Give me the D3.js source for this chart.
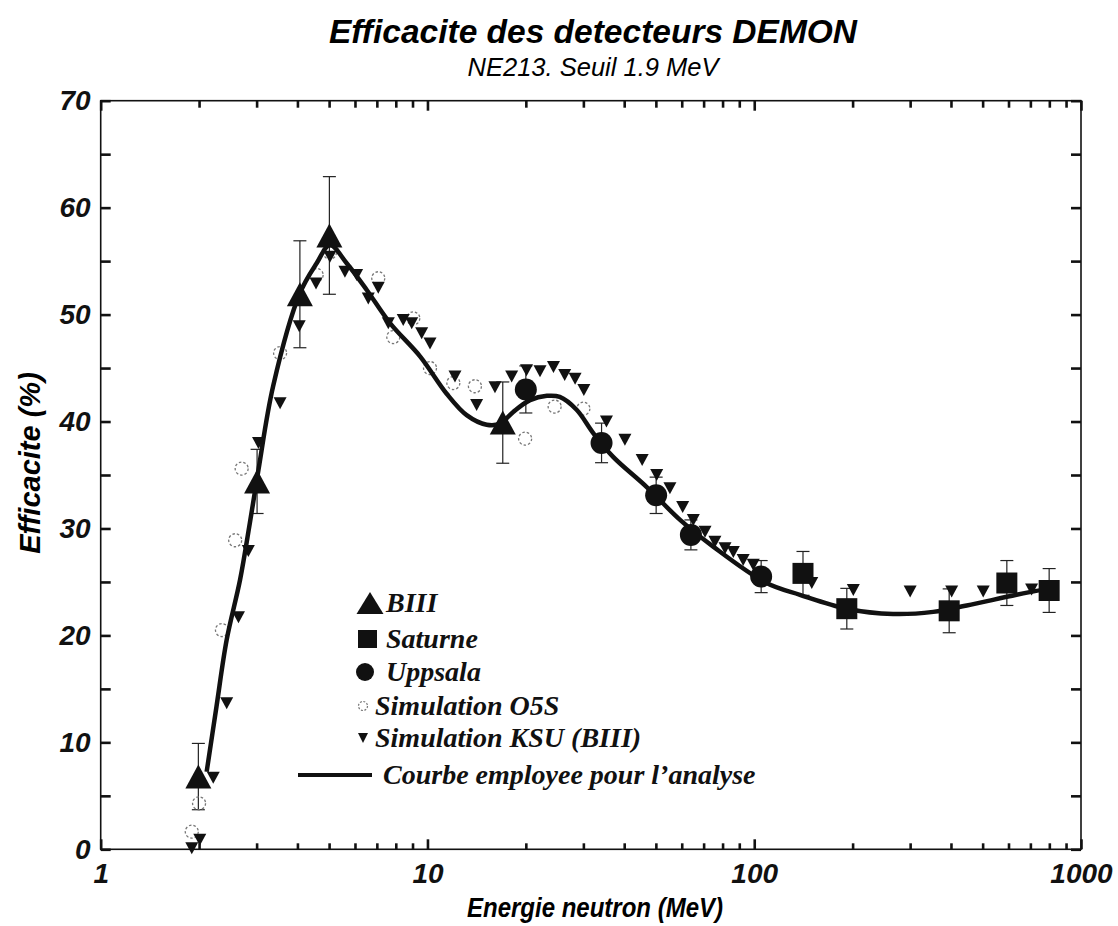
<!DOCTYPE html>
<html>
<head>
<meta charset="utf-8">
<script src="https://cdn.jsdelivr.net/npm/d3@7"></script>
<style>
  body { margin: 0; background: #fff; }
  svg { display: block; }
</style>
</head>
<body>
<svg id="chart" width="1118" height="926"></svg>
<script>
// Measured efficiencies (%), neutron energy in MeV
const biiiE   = [1.99, 3.01, 4.07, 5.01, 17.0];
const biiiEff = [6.8, 34.4, 51.9, 57.4, 39.9];
const biiiErr = [3.1, 3.0, 5.0, 5.5, 3.8];

const saturneE   = [141, 192, 395, 593, 799];
const saturneEff = [25.8, 22.5, 22.3, 24.9, 24.2];
const saturneErr = [2.05, 1.9, 2.05, 2.1, 2.05];

const uppsalaE   = [20.0, 34.1, 50.1, 64.0, 105];
const uppsalaEff = [43.0, 38.0, 33.1, 29.4, 25.5];
const uppsalaErr = [2.2, 1.85, 1.7, 1.4, 1.5];

// Simulations
const o5sE   = [1.90, 2.00, 2.35, 2.58, 2.70, 3.54, 4.58, 5.03, 7.07, 7.86, 9.05, 10.18, 12.0, 13.97, 19.9, 24.5, 30.0];
const o5sEff = [1.65, 4.3, 20.5, 28.9, 35.6, 46.4, 53.7, 55.8, 53.4, 47.9, 49.65, 45.0, 43.6, 43.3, 38.4, 41.4, 41.2];

const ksuE   = [1.90, 2.01, 2.21, 2.43, 2.64, 2.83, 3.04, 3.54, 4.05, 4.56,
                5.03, 5.59, 6.07, 6.59, 7.07, 7.59, 8.43, 8.95, 9.60, 10.18,
                12.14, 14.14, 16.09, 18.1, 20.1, 22.1, 24.3, 26.3, 28.3, 30.1,
                35.3, 40.2, 45.4, 50.3, 55.2, 60.4, 65.1, 70.7, 75.8, 81.4,
                86.3, 92.5, 99.3, 150, 201, 300, 402, 502, 706];
const ksuEff = [0.1, 0.9, 6.7, 13.65, 21.7, 27.9, 38.0, 41.7, 48.9, 52.9,
                55.4, 54.0, 53.7, 51.5, 52.5, 49.2, 49.5, 49.2, 48.25, 47.3,
                44.2, 41.55, 43.2, 44.2, 44.8, 44.7, 45.1, 44.35, 44.0, 42.95,
                40.0, 38.3, 36.4, 35.0, 33.75, 32.0, 30.8, 29.7, 28.75, 28.15,
                27.8, 27.05, 26.6, 24.9, 24.25, 24.1, 24.1, 24.1, 24.3];

// Efficiency curve used for the analysis
const curveE   = [2.11, 2.26, 2.43, 2.67, 2.86, 3.04, 3.37, 4.07, 4.58, 5.03, 5.66, 6.52, 7.68, 9.49,
                  11.45, 13.18, 15.18, 16.67, 18.3, 20.6, 23.2, 25.4, 28.6, 32.2, 37.0, 46.8, 59.3,
                  74.9, 109, 138, 192, 266, 353, 447, 635, 803];
const curveEff = [7.25, 13.3, 19.6, 25.2, 30.5, 35.5, 43.3, 52.0, 54.8, 56.5, 54.8, 52.3, 49.2, 46.1,
                  42.6, 40.6, 39.7, 39.8, 40.9, 42.0, 42.4, 42.3, 41.1, 38.9, 36.7, 33.9, 30.8,
                  28.3, 24.9, 23.8, 22.5, 22.0, 22.2, 22.8, 23.8, 24.4];

const yTicks = [0, 10, 20, 30, 40, 50, 60, 70];
const yMinor = [5, 15, 25, 35, 45, 55, 65];
const xTicks = [1, 10, 100, 1000];

const legendLabels = ["BIII", "Saturne", "Uppsala", "Simulation O5S", "Simulation KSU (BIII)", "Courbe employee pour l\u2019analyse"];

const zip = (xs, ys, es) => xs.map((e, i) => ({ e, v: ys[i], err: es ? es[i] : 0 }));

const svg = d3.select("#chart");
const L = 100.7, R = 1081, T = 100.7, B = 849.3;
const x = d3.scaleLog().domain([1, 1000]).range([L, R]);
const y = d3.scaleLinear().domain([0, 70]).range([B, T]);

const sans = "'Liberation Sans', Arial, Helvetica, sans-serif";
const serif = "'Liberation Serif', 'Times New Roman', serif";

// Titles
svg.append("text").attr("x", 593).attr("y", 43).attr("text-anchor", "middle")
  .style("font-family", sans).style("font-weight", "bold").style("font-style", "italic")
  .style("font-size", "33.5px").text("Efficacite des detecteurs DEMON");
svg.append("text").attr("x", 593).attr("y", 76).attr("text-anchor", "middle")
  .style("font-family", sans).style("font-style", "italic")
  .style("font-size", "25.5px").text("NE213. Seuil 1.9 MeV");

// Frame
svg.append("rect").attr("x", L).attr("y", T).attr("width", R - L).attr("height", B - T)
  .attr("fill", "none").attr("stroke", "#111").attr("stroke-width", 1.6);

// Axes: ticks point inward on all four sides
function styleAxis(g) {
  g.select(".domain").remove();
  g.selectAll(".tick line").attr("stroke", "#111").attr("stroke-width", 2.6);
  g.selectAll(".tick text").style("font-family", sans).style("font-weight", "bold")
    .style("font-style", "italic").style("font-size", "28px").attr("fill", "#111");
}
const minorX = [];
for (let d = 1; d < 1000; d *= 10) for (let k = 2; k <= 9; k++) minorX.push(d * k);

svg.append("g").attr("transform", `translate(${L},0)`)
  .call(d3.axisLeft(y).tickValues(yTicks).tickSizeInner(-10).tickSizeOuter(0).tickPadding(10))
  .call(styleAxis);
svg.append("g").attr("transform", `translate(${L},0)`)
  .call(d3.axisLeft(y).tickValues(yMinor).tickSizeInner(-10).tickSizeOuter(0).tickFormat(""))
  .call(styleAxis);
svg.append("g").attr("transform", `translate(${R},0)`)
  .call(d3.axisRight(y).tickValues(yTicks.concat(yMinor)).tickSizeInner(-10).tickSizeOuter(0).tickFormat(""))
  .call(styleAxis);
svg.append("g").attr("transform", `translate(0,${B})`)
  .call(d3.axisBottom(x).tickValues(xTicks).tickSizeInner(-10).tickSizeOuter(0).tickPadding(14).tickFormat(d3.format("d")))
  .call(styleAxis);
svg.append("g").attr("transform", `translate(0,${B})`)
  .call(d3.axisBottom(x).tickValues(minorX).tickSizeInner(-6).tickSizeOuter(0).tickFormat(""))
  .call(styleAxis);
svg.append("g").attr("transform", `translate(0,${T})`)
  .call(d3.axisTop(x).tickValues(xTicks).tickSizeInner(-10).tickSizeOuter(0).tickFormat(""))
  .call(styleAxis);
svg.append("g").attr("transform", `translate(0,${T})`)
  .call(d3.axisTop(x).tickValues(minorX).tickSizeInner(-7).tickSizeOuter(0).tickFormat(""))
  .call(styleAxis);

// Axis titles (the x title is set in a condensed cut)
svg.append("text").attr("x", 595).attr("y", 917).attr("text-anchor", "middle")
  .attr("textLength", 256).attr("lengthAdjust", "spacingAndGlyphs")
  .style("font-family", sans).style("font-weight", "bold").style("font-style", "italic")
  .style("font-size", "28px").text("Energie neutron (MeV)");
svg.append("text").attr("transform", "translate(40,463) rotate(-90)").attr("text-anchor", "middle")
  .style("font-family", sans).style("font-weight", "bold").style("font-style", "italic")
  .style("font-size", "29px").text("Efficacite (%)");

// Marker shapes (relative to the point)
const triUp = (w, h) => `M0,${-h / 2}L${w / 2},${h / 2}L${-w / 2},${h / 2}Z`;
const triDown = (w, h) => `M0,${h / 2}L${w / 2},${-h / 2}L${-w / 2},${-h / 2}Z`;

const plot = svg.append("g");

// Error bars
const withErr = [].concat(zip(biiiE, biiiEff, biiiErr), zip(saturneE, saturneEff, saturneErr), zip(uppsalaE, uppsalaEff, uppsalaErr));
const eb = plot.append("g").attr("stroke", "#222").attr("stroke-width", 1.2);
withErr.forEach(d => {
  const cx = x(d.e), y0 = y(d.v - d.err), y1 = y(d.v + d.err);
  eb.append("line").attr("x1", cx).attr("x2", cx).attr("y1", y0).attr("y2", y1);
  eb.append("line").attr("x1", cx - 6.5).attr("x2", cx + 6.5).attr("y1", y0).attr("y2", y0);
  eb.append("line").attr("x1", cx - 6.5).attr("x2", cx + 6.5).attr("y1", y1).attr("y2", y1);
});

// Simulation O5S
plot.append("g").selectAll("circle").data(zip(o5sE, o5sEff)).join("circle")
  .attr("cx", d => x(d.e)).attr("cy", d => y(d.v)).attr("r", 6.5)
  .attr("fill", "none").attr("stroke", "#777").attr("stroke-width", 1.3).attr("stroke-dasharray", "2.5,2");

// Simulation KSU
plot.append("g").selectAll("path").data(zip(ksuE, ksuEff)).join("path")
  .attr("transform", d => `translate(${x(d.e)},${y(d.v)})`).attr("d", triDown(13, 12)).attr("fill", "#111");

// Curve
const line = d3.line().x(d => x(d.e)).y(d => y(d.v)).curve(d3.curveCatmullRom.alpha(0.5));
plot.append("path").datum(zip(curveE, curveEff)).attr("d", line)
  .attr("fill", "none").attr("stroke", "#111").attr("stroke-width", 4.5).attr("stroke-linejoin", "round");

// Experimental points
plot.append("g").selectAll("path").data(zip(biiiE, biiiEff)).join("path")
  .attr("transform", d => `translate(${x(d.e)},${y(d.v)})`).attr("d", triUp(26, 24)).attr("fill", "#111");
plot.append("g").selectAll("rect").data(zip(saturneE, saturneEff)).join("rect")
  .attr("x", d => x(d.e) - 10.5).attr("y", d => y(d.v) - 10.5).attr("width", 21).attr("height", 21).attr("fill", "#111");
plot.append("g").selectAll("circle").data(zip(uppsalaE, uppsalaEff)).join("circle")
  .attr("cx", d => x(d.e)).attr("cy", d => y(d.v)).attr("r", 11).attr("fill", "#111");

// Legend
const lg = svg.append("g");
const rows = [603, 639, 672, 706, 738, 775];
const textX = [386, 386, 386, 375, 375, 383];
lg.append("path").attr("transform", `translate(370,${rows[0]})`).attr("d", triUp(27, 22)).attr("fill", "#111");
lg.append("rect").attr("x", 358).attr("y", rows[1] - 9).attr("width", 19).attr("height", 18).attr("fill", "#111");
lg.append("circle").attr("cx", 365).attr("cy", rows[2]).attr("r", 9).attr("fill", "#111");
lg.append("circle").attr("cx", 363).attr("cy", rows[3]).attr("r", 4.5).attr("fill", "none")
  .attr("stroke", "#777").attr("stroke-width", 1.2).attr("stroke-dasharray", "2,1.5");
lg.append("path").attr("transform", `translate(363,${rows[4]})`).attr("d", triDown(10, 10)).attr("fill", "#111");
lg.append("line").attr("x1", 298).attr("x2", 372).attr("y1", rows[5]).attr("y2", rows[5])
  .attr("stroke", "#111").attr("stroke-width", 4);
lg.selectAll("text").data(legendLabels).join("text")
  .attr("x", (d, i) => textX[i]).attr("y", (d, i) => rows[i] + 9)
  .style("font-family", serif).style("font-weight", "bold").style("font-style", "italic")
  .style("font-size", "28px").attr("fill", "#111").text(d => d);
</script>
</body>
</html>
